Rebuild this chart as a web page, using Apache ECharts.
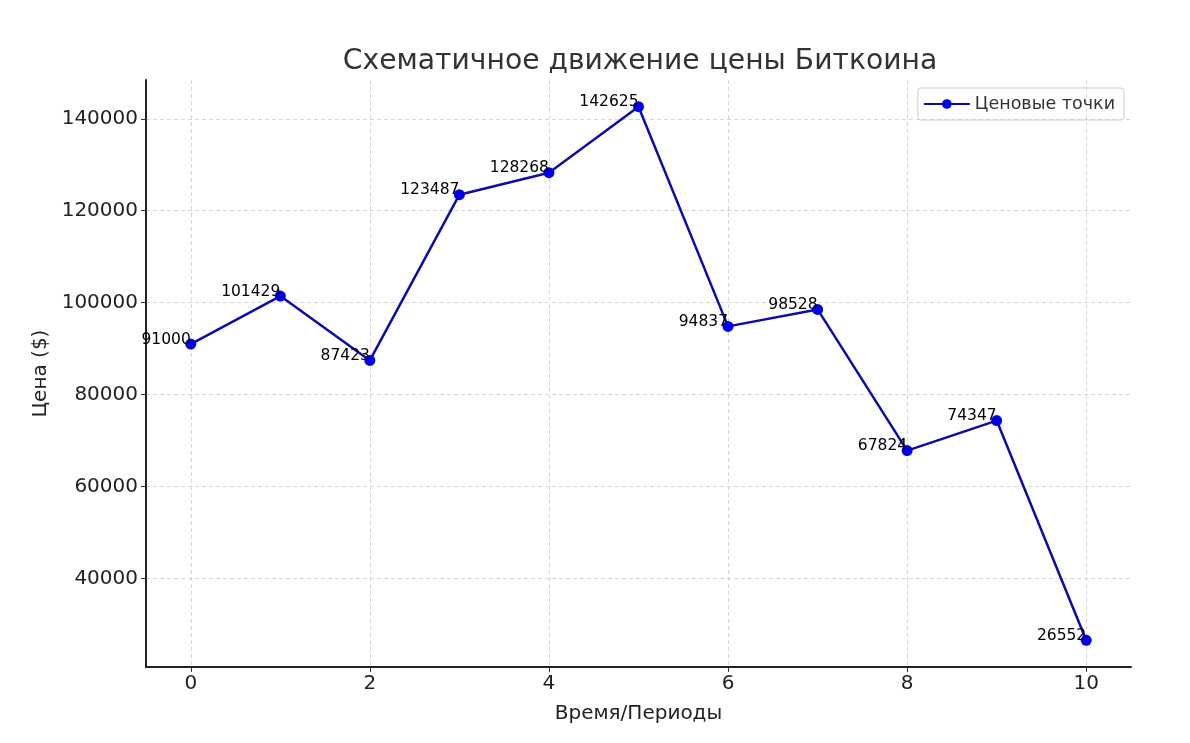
<!DOCTYPE html>
<html>
<head>
<meta charset="utf-8">
<script src="https://cdn.jsdelivr.net/npm/echarts@6/dist/echarts.min.js"></script>
<style>html,body{margin:0;padding:0;background:#fff}#c{width:1190px;height:743px}</style>
</head>
<body>
<div id="c"></div>
<script>
const periods = [0, 1, 2, 3, 4, 5, 6, 7, 8, 9, 10];
const prices = [91000, 101429, 87423, 123487, 128268, 142625, 94837, 98528, 67824, 74347, 26552];
const xTicks = [0, 2, 4, 6, 8, 10];
const yTicks = [40000, 60000, 80000, 100000, 120000, 140000];

const font = 'DejaVu Sans';
const chart = echarts.init(document.getElementById('c'), null, {renderer: 'canvas'});
const pad = (Math.max(...prices) - Math.min(...prices)) * 0.05;
chart.setOption({
  animation: false,
  textStyle: {fontFamily: font},
  title: {
    text: 'Схематичное движение цены Биткоина',
    left: 635, top: 43, textAlign: 'center',
    textStyle: {fontFamily: font, fontSize: 28.2, fontWeight: 'normal', color: '#333'}
  },
  legend: {
    right: 66, top: 88,
    itemWidth: 46, itemHeight: 12, itemGap: 10,
    padding: [7, 9, 7, 5],
    borderColor: '#cccccc', borderWidth: 1, borderRadius: 3,
    textStyle: {fontFamily: font, fontSize: 17.5, color: '#333'},
    data: ['Ценовые точки']
  },
  grid: {left: 146, right: 59, top: 80, bottom: 76},
  xAxis: {
    type: 'value', min: -0.5, max: 10.5,
    name: 'Время/Периоды', nameLocation: 'middle', nameGap: 37,
    nameTextStyle: {fontFamily: font, fontSize: 20, color: '#222'},
    axisLine: {show: true, onZero: false, lineStyle: {color: '#222', width: 2}},
    axisTick: {show: true, customValues: xTicks, length: 5, lineStyle: {color: '#333'}},
    axisLabel: {customValues: xTicks, fontFamily: font, fontSize: 20, color: '#222', margin: 7},
    splitLine: {show: true, lineStyle: {color: '#cccccc', type: [4, 3], width: 0.8}}
  },
  yAxis: {
    type: 'value', min: Math.min(...prices) - pad, max: Math.max(...prices) + pad,
    name: 'Цена ($)', nameLocation: 'middle', nameGap: 95, nameRotate: 90,
    nameTextStyle: {fontFamily: font, fontSize: 20, color: '#222'},
    axisLine: {show: true, onZero: false, lineStyle: {color: '#222', width: 2}},
    axisTick: {show: true, customValues: yTicks, length: 5, lineStyle: {color: '#333'}},
    axisLabel: {customValues: yTicks, formatter: v => String(v), fontFamily: font, fontSize: 20, color: '#222', margin: 8},
    splitLine: {show: true, lineStyle: {color: '#cccccc', type: [4, 3], width: 0.8}}
  },
  series: [{
    name: 'Ценовые точки',
    type: 'line',
    data: periods.map((p, i) => [p, prices[i]]),
    symbol: 'circle', symbolSize: 11,
    lineStyle: {color: '#0c0cae', width: 2.5},
    itemStyle: {color: '#0000e8'},
    label: {
      show: true, position: [5.5, 9], align: 'right', verticalAlign: 'bottom',
      formatter: p => String(p.value[1]),
      fontFamily: font, fontSize: 15.5, color: '#000'
    }
  }]
});
</script>
</body>
</html>
